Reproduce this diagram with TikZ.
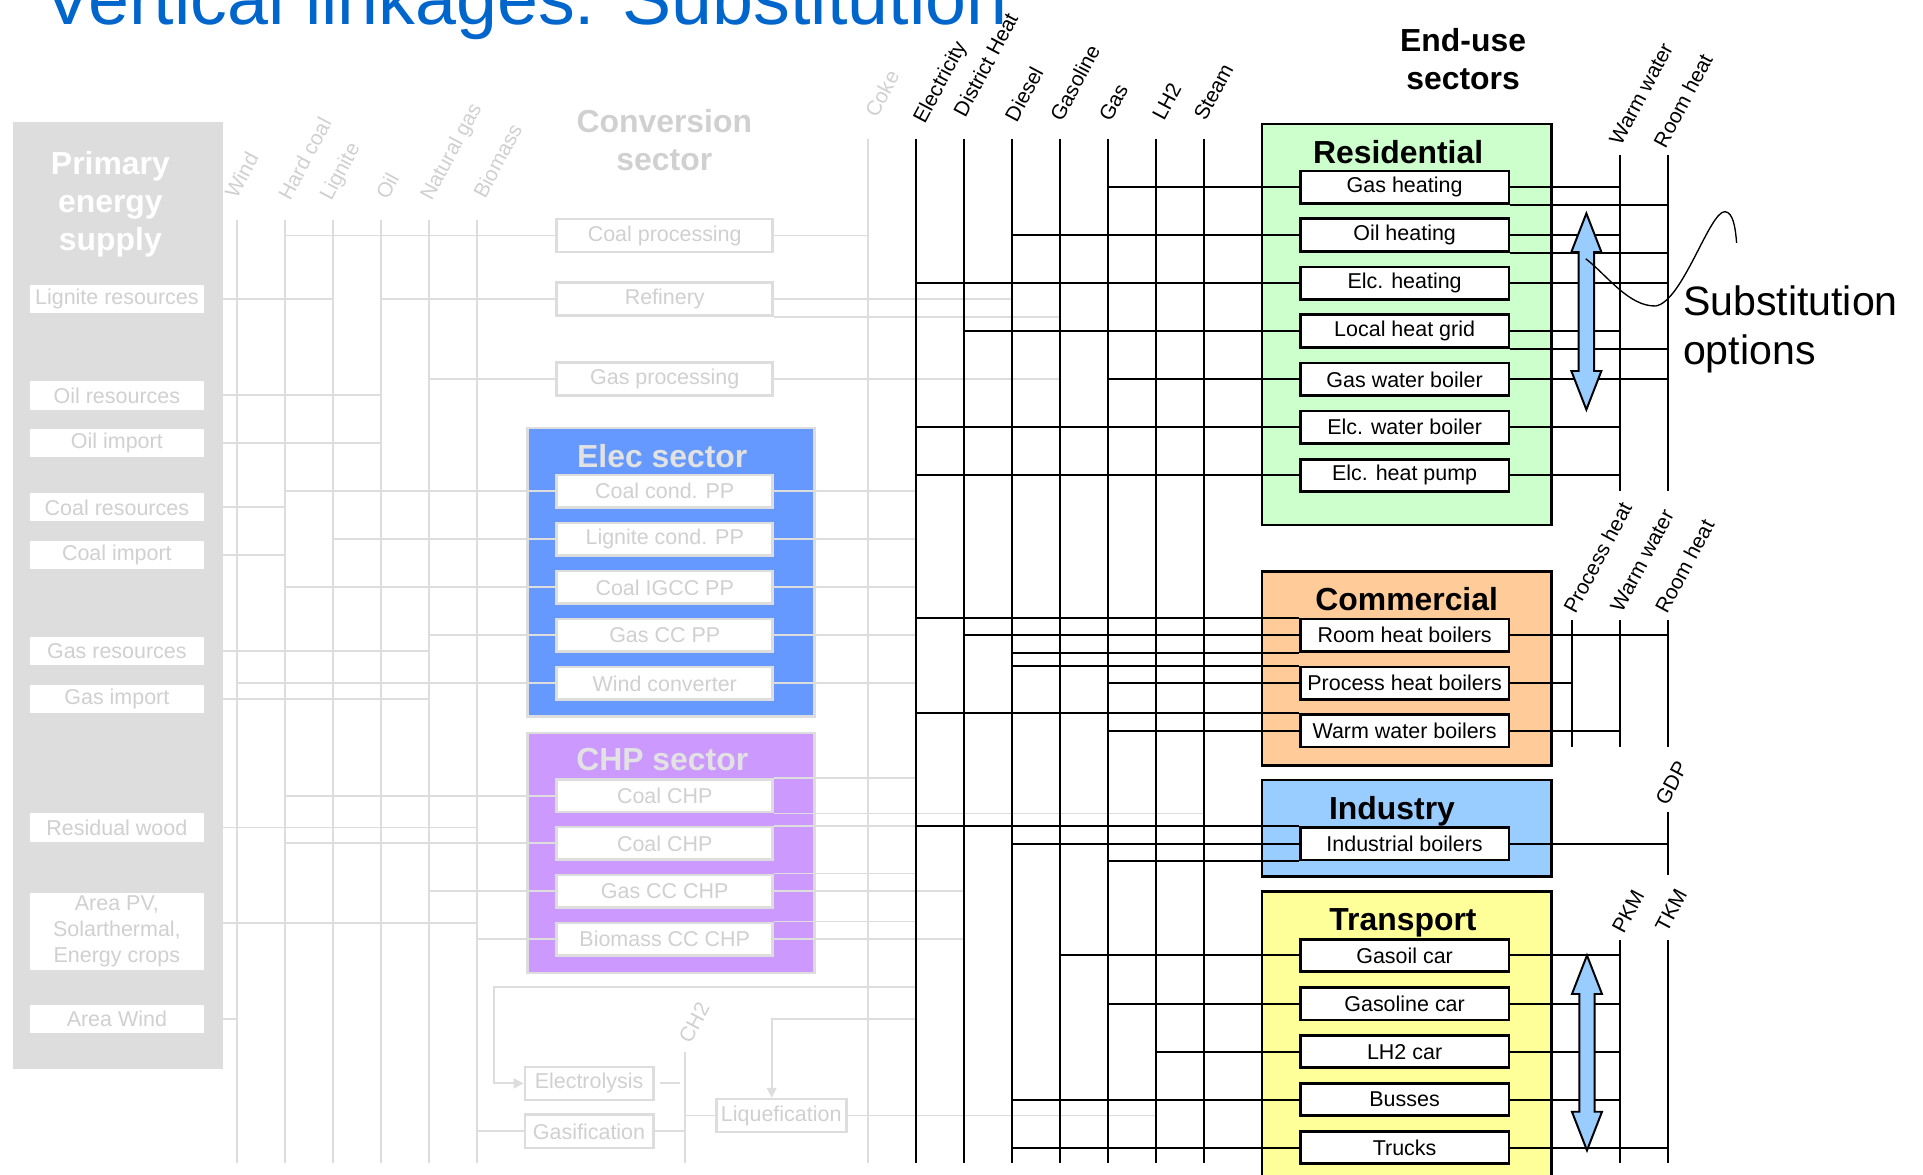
\documentclass[tikz,border=0pt]{standalone}
\usepackage{fontspec}
\setmainfont{Liberation Sans}
\usetikzlibrary{arrows.meta}

\definecolor{titleblue}{HTML}{0066CC}
\definecolor{lg}{HTML}{DDDDDD}
\definecolor{gt}{HTML}{D0D0D0}
\definecolor{lt}{HTML}{E2E2E2}
\definecolor{elecblue}{HTML}{6699FF}
\definecolor{chppurple}{HTML}{CC99FF}
\definecolor{resgreen}{HTML}{CCFFCC}
\definecolor{comorange}{HTML}{FFCC99}
\definecolor{indblue}{HTML}{99CCFF}
\definecolor{trayellow}{HTML}{FFFF99}
\definecolor{arrowblue}{HTML}{99CCFF}

\newcommand\dgItem{\fontsize{8.75}{10.5}\selectfont}
\newcommand\dgHead{\fontsize{13}{15.5}\selectfont\bfseries}
\newcommand\dgLab{\fontsize{8.5}{10.2}\selectfont}

\begin{document}
\begin{tikzpicture}[x=0.5pt,y=-0.5pt,
  gline/.style={draw=lg,line width=0.75pt},
  bline/.style={draw=black,line width=0.8pt},
  gbox/.style={draw=lg,line width=1.1pt,fill=white,text=gt,minimum width=88pt,minimum height=13.4pt,inner sep=0pt,font=\dgItem},
  resbox/.style={fill=white,text=gt,minimum width=71pt,minimum height=11.5pt,inner sep=0pt,font=\dgItem},
  bbox/.style={draw=black,line width=1.1pt,fill=white,minimum width=85pt,minimum height=13.2pt,inner sep=0pt,font=\dgItem},
  sector/.style={draw=black,line width=1pt,anchor=north west,inner sep=0pt,minimum width=118pt},
  gsector/.style={draw=lg,line width=1.1pt,anchor=north west,inner sep=0pt,minimum width=117.25pt},
  glab/.style={rotate=62,anchor=base west,inner sep=0pt,font=\dgLab,text=gt},
  blab/.style={rotate=62,anchor=base west,inner sep=0pt,font=\dgLab},
  ghead/.style={anchor=base,align=center,inner sep=0pt,font=\dgHead,text=gt},
  bhead/.style={anchor=base,align=center,inner sep=0pt,font=\dgHead},
  htip/.style={-{Triangle[length=4pt,width=4pt]}},
  barrow/.style={fill=arrowblue,draw=black,line width=0.8pt,line join=miter},
]
\useasboundingbox (0,0) rectangle (1568,958);
\clip (0,0) rectangle (1568,958);

% ---------- title ----------
\node[anchor=base west,inner sep=0pt,text=titleblue,font=\fontsize{30}{36}\selectfont] (title) at (35,20) {Vertical linkages: Substitution};

% ---------- primary energy supply ----------
% (multi-line nodes are placed by the baseline of their last line)
\node[fill=lg,anchor=north west,inner sep=0pt,minimum width=85.75pt,minimum height=385.9pt] (pes) at (9.8,99.2) {};
\node[bhead,text=white] (pestitle) at (90,204.5) {Primary\\energy\\supply};

\node[resbox] (lignres) at (95.3,244) {Lignite resources};
\node[resbox] (oilres) at (95.3,322.4) {Oil resources};
\node[resbox] (oilimp) at (95.3,361.2) {Oil import};
\node[resbox] (coalres) at (95.3,413.7) {Coal resources};
\node[resbox] (coalimp) at (95.3,452.8) {Coal import};
\node[resbox] (gasres) at (95.3,530.8) {Gas resources};
\node[resbox] (gasimp) at (95.3,570.2) {Gas import};
\node[resbox] (reswood) at (95.3,674.7) {Residual wood};
\node[resbox,minimum height=31.5pt,align=center] (areapv) at (95.3,759.5) {Area PV,\\Solarthermal,\\Energy crops};
\node[resbox] (areawind) at (95.3,831) {Area Wind};

% primary carriers
\coordinate (bot) at (0,948);
\coordinate (wind) at (193,179);
\coordinate (hcoal) at (232.7,179);
\coordinate (lign) at (271.5,179);
\coordinate (oil) at (310.6,179);
\coordinate (ngas) at (350,179);
\coordinate (bio) at (389,179);
\coordinate (coke) at (708,113.6);
\foreach \c in {wind,hcoal,lign,oil,ngas,bio,coke}
  \draw[gline] (\c) -- (\c |- bot);

\node[glab] (lwind) at (193,163) {Wind};
\node[glab] (lhcoal) at (236.5,164.7) {Hard coal};
\node[glab] (llign) at (270,165) {Lignite};
\node[glab] (loil) at (316,164) {Oil};
\node[glab] (lngas) at (352,165) {Natural gas};
\node[glab] (lbio) at (395.5,163) {Biomass};
\node[glab] (lcoke) at (715,97) {Coke};

% ---------- conversion sector ----------
\node[ghead] (convtitle) at (541.7,139) {Conversion\\sector};
\node[gbox] (coalproc) at (542,192) {Coal processing};
\node[gbox] (refinery) at (542,243.8) {Refinery};
\node[gbox] (gasproc) at (542,309) {Gas processing};

\node[gsector,fill=elecblue,minimum height=117.5pt] (elecsec) at (428.8,348) {};
\node[bhead,text=lt] (electitle) at (540,381.3) {Elec sector};
\node[gbox] (ccpp) at (542,400.6) {Coal cond. PP};
\node[gbox] (lcpp) at (542,439.8) {Lignite cond. PP};
\node[gbox] (igcc) at (542,478.9) {Coal IGCC PP};
\node[gbox] (gccpp) at (542,518) {Gas CC PP};
\node[gbox] (windconv) at (542,557.2) {Wind converter};

\node[gsector,fill=chppurple,minimum height=97.85pt] (chpsec) at (428.8,596.6) {};
\node[bhead,text=lt] (chptitle) at (540,628.4) {CHP sector};
\node[gbox] (chpa) at (542,648.8) {Coal CHP};
\node[gbox] (chpb) at (542,687.7) {Coal CHP};
\node[gbox] (gaschp) at (542,726.8) {Gas CC CHP};
\node[gbox] (biochp) at (542,765.9) {Biomass CC CHP};

\node[gbox,minimum width=52.3pt,minimum height=13.5pt] (electrolysis) at (480.3,883.4) {Electrolysis};
\node[gbox,minimum width=52.3pt,minimum height=13.5pt] (gasif) at (480.3,922.5) {Gasification};
\node[gbox,minimum width=53pt,minimum height=13.5pt] (liquef) at (637,909.6) {Liquefication};
\node[glab] (lchtwo) at (563,852) {CH2};

% resources to carriers
\draw[gline] (lignres.east) -- (lign |- lignres.east);
\draw[gline] (oilres.east) -- (oil |- oilres.east);
\draw[gline] (oilimp.east) -- (oil |- oilimp.east);
\draw[gline] (coalres.east) -- (hcoal |- coalres.east);
\draw[gline] (coalimp.east) -- (hcoal |- coalimp.east);
\draw[gline] (gasres.east) -- (ngas |- gasres.east);
\draw[gline] (gasimp.east) -- (ngas |- gasimp.east);
\draw[gline] (reswood.east) -- (bio |- reswood.east);
\draw[gline] ([yshift=3.35pt]areapv.east) coordinate (pvout) -- (bio |- pvout);
\draw[gline] (areawind.east) -- (wind |- areawind.east);

% carriers to conversion
\draw[gline] (hcoal |- coalproc.west) -- (coalproc.west);
\draw[gline] (oil |- refinery.west) -- (refinery.west);
\draw[gline] (ngas |- gasproc.west) -- (gasproc.west);
\draw[gline] (hcoal |- ccpp.west) -- (ccpp.west);
\draw[gline] (lign |- lcpp.west) -- (lcpp.west);
\draw[gline] (hcoal |- igcc.west) -- (igcc.west);
\draw[gline] (ngas |- gccpp.west) -- (gccpp.west);
\draw[gline] (wind |- windconv.west) -- (windconv.west);
\draw[gline] (hcoal |- chpa.west) -- (chpa.west);
\draw[gline] (hcoal |- chpb.west) -- (chpb.west);
\draw[gline] (ngas |- gaschp.west) -- (gaschp.west);
\draw[gline] (bio |- biochp.west) -- (biochp.west);
\draw[gline] (bio |- gasif.west) -- (gasif.west);

% black final-energy buses
\foreach \n/\x in {elec/747,dheat/786.1,diesel/825.4,gasoline/864.6,gas/903.7,lhtwo/942.8,steam/982}
  \coordinate (\n) at (\x,113.6);

% conversion outputs
\draw[gline] (coalproc.east) -- (coke |- coalproc.east);
\draw[gline] (refinery.east) -- (diesel |- refinery.east);
\draw[gline] (refinery.south east) -- (gasoline |- refinery.south east);
\draw[gline] (gasproc.east) -- (gasoline |- gasproc.east);
\foreach \b in {ccpp,lcpp,igcc,gccpp,windconv}
  \draw[gline] (\b.east) -- (elec |- \b.east);
\draw[gline] (chpa.north east) -- (elec |- chpa.north east);
\draw[gline] (chpa.south east) -- (steam |- chpa.south east);
\draw[gline] (chpb.north east) -- (elec |- chpb.north east);
\draw[gline] (gaschp.north east) -- (elec |- gaschp.north east);
\draw[gline] (gaschp.east) -- (dheat |- gaschp.east);
\draw[gline] (biochp.north east) -- (elec |- biochp.north east);
\draw[gline] (biochp.east) -- (dheat |- biochp.east);

% hydrogen chain
\coordinate (elyturn) at (403,805);
\draw[gline,htip] (elec |- elyturn) -- (elyturn) |- (electrolysis.west);
\coordinate (liqturn) at (629.2,831);
\draw[gline,htip] (elec |- liqturn) -- (liqturn) -- (liqturn |- liquef.north);
\coordinate (chtwo) at (558.6,858);
\draw[gline] (chtwo) -- (chtwo |- bot);
\draw[gline] ([xshift=2.2pt]electrolysis.east) -- ([xshift=10.2pt]electrolysis.east);
\draw[gline] (gasif.east) -- (chtwo |- gasif.east);
\draw[gline] (chtwo |- liquef.west) -- (liquef.west);
\draw[gline] (liquef.east) -- (lhtwo |- liquef.east);

% bus lines and their labels
\foreach \n in {elec,dheat,diesel,gasoline,gas,lhtwo,steam}
  \draw[bline] (\n) -- (\n |- bot);
\node[blab] (lelec) at (754,102) {Electricity};
\node[blab] (ldheat) at (787,96.8) {District Heat};
\node[blab] (ldiesel) at (829,100.8) {Diesel};
\node[blab] (lgasoline) at (865.9,100.3) {Gasoline};
\node[blab] (lgas) at (905.6,100.3) {Gas};
\node[blab] (llhtwo) at (949,99.8) {LH2};
\node[blab] (lsteam) at (982.9,99.8) {Steam};

% ---------- end-use sectors ----------
\node[bhead] (enduse) at (1193,73) {End-use\\sectors};

\node[sector,fill=resgreen,minimum height=163.5pt] (ressec) at (1028,100) {};
\node[bhead] (restitle) at (1140,133) {Residential};
\node[bbox] (gash) at (1145.3,152.7) {Gas heating};
\node[bbox] (oilh) at (1145.3,191.6) {Oil heating};
\node[bbox] (elch) at (1145.3,230.8) {Elc. heating};
\node[bbox] (lhg) at (1145.3,269.9) {Local heat grid};
\node[bbox] (gwb) at (1145.3,309.3) {Gas water boiler};
\node[bbox] (ewb) at (1145.3,348.4) {Elc. water boiler};
\node[bbox] (ehp) at (1145.3,387.6) {Elc. heat pump};

\node[sector,fill=comorange,minimum height=79pt] (comsec) at (1028,465) {};
\node[bhead] (comtitle) at (1147,498) {Commercial};
\node[bbox] (rhb) at (1145.3,518) {Room heat boilers};
\node[bbox] (phb) at (1145.3,557) {Process heat boilers};
\node[bbox] (wwb) at (1145.3,596) {Warm water boilers};

\node[sector,fill=indblue,minimum height=39.25pt] (indsec) at (1028,635) {};
\node[bhead] (indtitle) at (1135,668) {Industry};
\node[bbox] (indb) at (1145.3,688) {Industrial boilers};

\node[sector,fill=trayellow,minimum height=127pt] (trasec) at (1028,726) {};
\node[bhead] (tratitle) at (1144,759) {Transport};
\node[bbox] (gcar) at (1145.3,779) {Gasoil car};
\node[bbox] (glcar) at (1145.3,818.4) {Gasoline car};
\node[bbox] (lhcar) at (1145.3,857.5) {LH2 car};
\node[bbox] (busses) at (1145.3,896.6) {Busses};
\node[bbox] (trucks) at (1145.3,935.7) {Trucks};

% useful-energy lines
\coordinate (rww) at (1321,126.4);
\coordinate (rrh) at (1360.4,126.4);
\coordinate (cph) at (1282,505.6);
\coordinate (cww) at (1321,505.6);
\coordinate (crh) at (1360.4,505.6);
\coordinate (gdp) at (1360.4,662);
\coordinate (pkm) at (1321.3,766.5);
\coordinate (tkm) at (1360.4,766.5);
\draw[bline] (rww) -- ++(0,273.6);
\draw[bline] (rrh) -- ++(0,273.6);
\draw[bline] (cph) -- ++(0,103.4);
\draw[bline] (cww) -- ++(0,103.4);
\draw[bline] (crh) -- ++(0,103.4);
\draw[bline] (gdp) -- ++(0,51.5);
\draw[bline] (pkm) -- (pkm |- bot);
\draw[bline] (tkm) -- (tkm |- bot);

\node[blab] (lrww) at (1321.7,119.9) {Warm water};
\node[blab] (lrrh) at (1357.9,122) {Room heat};
\node[blab] (lcph) at (1284.5,501.7) {Process heat};
\node[blab] (lcww) at (1322.5,500.4) {Warm water};
\node[blab] (lcrh) at (1359.2,501.7) {Room heat};
\node[blab] (lgdp) at (1359.3,658) {GDP};
\node[blab] (lpkm) at (1323.9,762.7) {PKM};
\node[blab] (ltkm) at (1359.2,761.3) {TKM};

% residential inputs and outputs
\draw[bline] (gas |- gash.west) -- (gash.west);
\draw[bline] (diesel |- oilh.west) -- (oilh.west);
\draw[bline] (elec |- elch.west) -- (elch.west);
\draw[bline] (dheat |- lhg.west) -- (lhg.west);
\draw[bline] (gas |- gwb.west) -- (gwb.west);
\draw[bline] (elec |- ewb.west) -- (ewb.west);
\draw[bline] (elec |- ehp.west) -- (ehp.west);
\draw[bline] (gash.east) -- (rww |- gash.east);
\draw[bline] (gash.south east) -- (rrh |- gash.south east);
\draw[bline] (oilh.east) -- (rww |- oilh.east);
\draw[bline] (oilh.south east) -- (rrh |- oilh.south east);
\draw[bline] (elch.east) -- (rrh |- elch.east);
\draw[bline] (lhg.east) -- (rww |- lhg.east);
\draw[bline] (lhg.south east) -- (rrh |- lhg.south east);
\draw[bline] (gwb.east) -- (rrh |- gwb.east);
\draw[bline] (ewb.east) -- (rww |- ewb.east);
\draw[bline] (ehp.east) -- (rww |- ehp.east);

% commercial
\draw[bline] (elec |- rhb.north west) -- (rhb.north west);
\draw[bline] (dheat |- rhb.west) -- (rhb.west);
\draw[bline] (diesel |- rhb.south west) -- (rhb.south west);
\draw[bline] (diesel |- phb.north west) -- (phb.north west);
\draw[bline] (gas |- phb.west) -- (phb.west);
\draw[bline] (elec |- wwb.north west) -- (wwb.north west);
\draw[bline] (gas |- wwb.west) -- (wwb.west);
\draw[bline] (rhb.east) -- (crh |- rhb.east);
\draw[bline] (phb.east) -- (cph |- phb.east);
\draw[bline] (wwb.east) -- (cww |- wwb.east);

% industry
\draw[bline] (elec |- indb.north west) -- (indb.north west);
\draw[bline] (diesel |- indb.west) -- (indb.west);
\draw[bline] (gas |- indb.south west) -- (indb.south west);
\draw[bline] (indb.east) -- (gdp |- indb.east);

% transport
\draw[bline] (gasoline |- gcar.west) -- (gcar.west);
\draw[bline] (gas |- glcar.west) -- (glcar.west);
\draw[bline] (lhtwo |- lhcar.west) -- (lhcar.west);
\draw[bline] (diesel |- busses.west) -- (busses.west);
\draw[bline] (diesel |- trucks.west) -- (trucks.west);
\foreach \t in {gcar,glcar,lhcar,busses}
  \draw[bline] (\t.east) -- (pkm |- \t.east);
\draw[bline] (trucks.east) -- (tkm |- trucks.east);

% substitution arrows
\draw[barrow] (1293.5,174) coordinate (resarrow) -- (1305.75,205.5) -- (1299.75,205.5) -- (1299.75,302.5) -- (1305.75,302.5) -- (1293.5,334) -- (1281.25,302.5) -- (1287.25,302.5) -- (1287.25,205.5) -- (1281.25,205.5) -- cycle;
\draw[barrow] (1294,779) coordinate (traarrow) -- (1306.25,810.5) -- (1300.25,810.5) -- (1300.25,906.5) -- (1306.25,906.5) -- (1294,938) -- (1281.75,906.5) -- (1287.75,906.5) -- (1287.75,810.5) -- (1281.75,810.5) -- cycle;

% callout
\node[anchor=base west,inner sep=0pt,align=left,font=\fontsize{16.75}{20.3}\selectfont] (subst) at (1372,297.6) {Substitution\\options};
\coordinate (callstart) at (1293,211);
\draw[line width=0.55pt] (callstart) .. controls (1310,224) and (1328,250) .. (1350,249.5) .. controls (1372,246) and (1394,172) .. (1406.5,172.6) .. controls (1413,173) and (1415,185) .. (1416,198);
\end{tikzpicture}
\end{document}
